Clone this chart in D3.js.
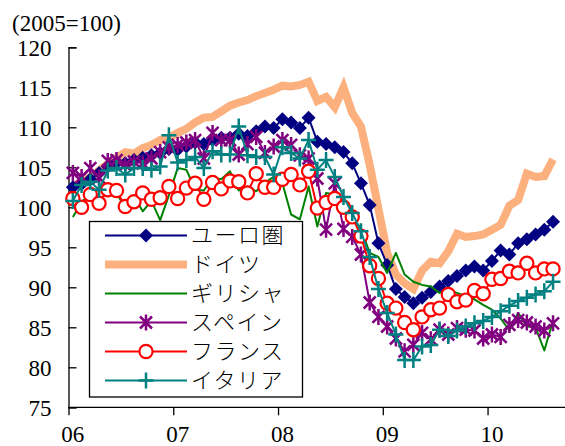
<!DOCTYPE html>
<html>
<head>
<meta charset="utf-8">
<script src="https://cdn.jsdelivr.net/npm/d3@7"></script>
<style>
  body { margin: 0; background: #fff; }
  svg { display: block; }
  text { fill: #000; }
</style>
</head>
<body>
<div id="chart"></div>
<script>
const width = 565;
const height = 446;

// monthly, 2006-01 .. 2010-08 (index 2005=100)
const months = d3.utcMonth.range(new Date(Date.UTC(2006, 0, 1)), new Date(Date.UTC(2010, 8, 1)));
const yearLabels = ["06", "07", "08", "09", "10"];
const yTicks = [75, 80, 85, 90, 95, 100, 105, 110, 115, 120];

const euro = [102.5, 102.9, 103.5, 104.3, 105.1, 105.6, 105.5, 105.9, 106.2, 106.5,
  106.8, 107.3, 107.2, 107.6, 108.1, 107.9, 108.4, 108.7, 108.7, 109.2,
  108.9, 109.5, 110.1, 109.9, 111.0, 110.6, 109.9, 111.2, 108.2, 107.9,
  107.5, 106.9, 105.5, 103.0, 100.3, 95.5, 92.8, 89.8, 88.8, 88.0,
  88.7, 89.4, 90.1, 90.8, 91.4, 92.1, 92.6, 92.1, 93.3, 94.6,
  94.1, 95.5, 96.0, 96.6, 97.2, 98.2];
const germany = [102.6, 103.2, 103.8, 104.6, 105.4, 106.2, 106.9, 106.7, 107.4, 107.8,
  108.4, 108.7, 109.3, 109.8, 110.6, 111.2, 111.3, 112.0, 112.7, 113.1,
  113.4, 113.9, 114.3, 114.7, 115.2, 115.1, 115.3, 115.7, 113.3, 113.8,
  112.5, 115.0, 111.8, 110.1, 105.3, 99.8, 94.3, 91.6, 90.5, 89.8,
  92.1, 93.2, 93.0, 94.5, 96.7, 96.3, 96.4, 96.6, 97.2, 97.8,
  100.2, 100.9, 104.2, 103.8, 103.9, 106.0];
const greece = [98.8, 100.6, 101.8, 102.2, 102.8, 101.8, 99.9, 101.4, 99.5, 100.8,
  98.4, 101.5, 104.9, 104.7, 102.2, 102.1, 103.7, 103.5, 104.5, 102.1,
  102.6, 102.0, 103.1, 103.8, 103.0, 99.1, 98.5, 102.6, 97.6, 101.8,
  101.6, 100.8, 98.8, 97.3, 94.3, 93.8, 91.8, 94.3, 91.6, 90.7,
  90.3, 90.1, 89.3, 89.7, 89.3, 88.9, 88.5, 87.8, 87.2, 86.1,
  84.6, 86.8, 85.1, 85.0, 82.1, 85.8];
const spain = [104.3, 103.8, 104.9, 103.7, 105.8, 105.9, 105.3, 105.7, 105.5, 106.1,
  106.9, 107.5, 107.8, 108.1, 108.4, 106.1, 109.3, 108.4, 108.4, 106.6,
  107.9, 108.8, 106.8, 107.6, 108.4, 107.8, 106.5, 106.1, 103.6, 97.2,
  103.0, 97.3, 96.3, 94.1, 88.1, 86.3, 85.1, 83.6, 82.0, 82.8,
  84.3, 83.5, 84.7, 84.1, 84.9, 84.7, 84.6, 83.6, 84.1, 83.8,
  85.3, 85.9, 85.6, 85.1, 84.6, 85.5];
const france = [101.1, 100.0, 101.6, 100.5, 102.2, 102.1, 100.1, 100.7, 101.8, 101.0,
  101.2, 102.6, 101.1, 102.4, 103.0, 101.0, 103.1, 102.3, 103.3, 103.2,
  101.8, 104.2, 102.5, 102.5, 103.5, 104.1, 102.8, 104.5, 99.9, 100.6,
  101.1, 100.0, 98.8, 96.4, 92.7, 91.1, 88.0, 87.4, 85.6, 84.7,
  86.3, 87.2, 87.4, 89.1, 88.2, 88.4, 89.6, 89.2, 91.0, 91.1,
  92.0, 91.8, 93.0, 91.8, 92.3, 92.3];
const italy = [100.8, 102.8, 103.2, 102.2, 104.6, 104.9, 104.1, 104.9, 104.9, 104.7,
  105.1, 109.0, 105.6, 105.9, 106.3, 104.9, 107.0, 106.6, 106.6, 110.1,
  106.5, 106.3, 106.3, 104.1, 107.5, 106.8, 106.1, 108.4, 104.7, 105.9,
  103.8, 101.3, 99.3, 97.0, 93.8, 89.8, 86.8, 84.1, 80.9, 80.9,
  82.6, 82.8, 84.7, 83.9, 84.6, 85.1, 85.5, 85.8, 86.3, 87.0,
  87.7, 88.3, 88.7, 89.1, 89.5, 90.7];

const seriesNames = ["ユーロ圏", "ドイツ", "ギリシャ", "スペイン", "フランス", "イタリア"];
const seriesValues = [euro, germany, greece, spain, france, italy];
const seriesColors = ["#000080", "#fcb07e", "#008000", "#800080", "#ff0000", "#008080"];
const seriesWidths = [2, 8, 2, 2, 2, 2];
const seriesMarkers = ["diamond", null, null, "star", "circle", "plus"];
// germany sits behind everything else
const drawOrder = [1, 0, 2, 3, 4, 5];

const numFont = "'Liberation Serif', 'Times New Roman', serif";
const jpFont = "'Noto Sans CJK JP', sans-serif";

const x = d3.scaleLinear().domain([0, months.length]).range([68.5, 557.4]);
const y = d3.scaleLinear().domain([75, 120]).range([407.3, 47.3]);

const svg = d3.select("#chart").append("svg")
  .attr("width", width)
  .attr("height", height);

// y axis, ticks pointing inward
const yAxis = svg.append("g")
  .attr("transform", `translate(${x(0)},0)`)
  .call(d3.axisLeft(y).tickValues(yTicks).tickSize(-8).tickPadding(17));
yAxis.select(".domain").attr("stroke", "#000").attr("stroke-width", 1.3);
yAxis.selectAll(".tick line").attr("stroke", "#000").attr("stroke-width", 1.3);
yAxis.selectAll(".tick text")
  .attr("font-family", numFont)
  .attr("font-size", 23)
  .attr("dy", "0.34em");

// x axis: tick every 12 months, label centred on january
const xAxis = svg.append("g")
  .attr("transform", `translate(0,${y(75)})`)
  .call(d3.axisBottom(x).tickValues([0, 12, 24, 36, 48]).tickSize(8).tickFormat(""));
xAxis.select(".domain").remove();
xAxis.selectAll(".tick line").attr("stroke", "#000").attr("stroke-width", 1.3);
xAxis.append("line")
  .attr("x1", x(0)).attr("x2", width)
  .attr("stroke", "#000").attr("stroke-width", 1.3);

svg.append("g").selectAll("text")
  .data(yearLabels)
  .join("text")
  .attr("x", (d, i) => x(i * 12 + 0.5))
  .attr("y", 434)
  .attr("dy", "0.34em")
  .attr("text-anchor", "middle")
  .attr("font-family", numFont)
  .attr("font-size", 23)
  .text((d) => d);

svg.append("text")
  .attr("x", 12)
  .attr("y", 23)
  .attr("dy", "0.34em")
  .attr("font-family", numFont)
  .attr("font-size", 23)
  .text("(2005=100)");

const drawMarker = (g, type, color) => {
  if (type === "diamond") {
    g.append("path").attr("d", "M0,-7L7,0L0,7L-7,0Z").attr("fill", color);
  } else if (type === "circle") {
    g.append("circle").attr("r", 6.6)
      .attr("fill", "#fff").attr("stroke", color).attr("stroke-width", 2.2);
  } else if (type === "plus") {
    g.append("path").attr("d", "M-7.5,0H7.5M0,-8V8")
      .attr("stroke", color).attr("stroke-width", 2.5);
  } else if (type === "star") {
    g.append("path").attr("d", "M-6,-6L6,6M-6,6L6,-6M0,-8V8")
      .attr("stroke", color).attr("stroke-width", 2.5);
  }
};

const line = d3.line()
  .x((d, i) => x(i + 0.5))
  .y((d) => y(d));

const plot = svg.append("g");
drawOrder.forEach((s) => {
  const g = plot.append("g");
  g.append("path")
    .datum(seriesValues[s])
    .attr("d", line)
    .attr("fill", "none")
    .attr("stroke", seriesColors[s])
    .attr("stroke-width", seriesWidths[s])
    .attr("stroke-linejoin", s === 1 ? "miter" : "round");
  if (seriesMarkers[s]) {
    g.selectAll("g")
      .data(seriesValues[s])
      .join("g")
      .attr("transform", (d, i) => `translate(${x(i + 0.5)},${y(d)})`)
      .each(function () { drawMarker(d3.select(this), seriesMarkers[s], seriesColors[s]); });
  }
});

// legend
const legend = svg.append("g");
legend.append("rect")
  .attr("x", 89.5).attr("y", 221.5)
  .attr("width", 213).attr("height", 175.5)
  .attr("fill", "#fff").attr("stroke", "#000").attr("stroke-width", 1.3);

const rows = legend.selectAll("g.row")
  .data(seriesNames)
  .join("g")
  .attr("class", "row")
  .attr("transform", (d, i) => `translate(0,${235.5 + i * 29})`);

rows.append("line")
  .attr("x1", 105).attr("x2", 187)
  .attr("stroke", (d, i) => seriesColors[i])
  .attr("stroke-width", (d, i) => seriesWidths[i]);

rows.each(function (d, i) {
  if (seriesMarkers[i]) {
    const m = d3.select(this).append("g").attr("transform", "translate(146,0)");
    drawMarker(m, seriesMarkers[i], seriesColors[i]);
  }
});

rows.append("text")
  .attr("x", 191)
  .attr("dy", "0.36em")
  .attr("font-family", jpFont)
  .attr("font-size", 22)
  .attr("font-weight", 300)
  .attr("letter-spacing", 1.5)
  .text((d) => d);
</script>
</body>
</html>
